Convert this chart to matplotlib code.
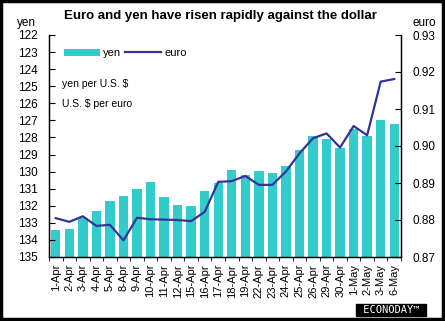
import matplotlib.pyplot as plt
import numpy as np
from matplotlib.patches import Rectangle

plt.rcParams['font.family'] = ['Liberation Sans', 'DejaVu Sans']

dates = ['1-Apr', '2-Apr', '3-Apr', '4-Apr', '5-Apr', '8-Apr', '9-Apr', '10-Apr',
         '11-Apr', '12-Apr', '15-Apr', '16-Apr', '17-Apr', '18-Apr', '19-Apr',
         '22-Apr', '23-Apr', '24-Apr', '25-Apr', '26-Apr', '29-Apr', '30-Apr',
         '1-May', '2-May', '3-May', '6-May']
yen = [133.42, 133.36, 132.70, 132.30, 131.72, 131.43, 131.02, 130.61,
       131.49, 131.95, 132.01, 131.13, 130.67, 129.90, 130.22,
       129.96, 130.08, 129.66, 128.73, 127.91, 128.09, 128.62,
       127.50, 127.91, 126.98, 127.21]
euro = [0.8805, 0.8795, 0.8810, 0.8784, 0.8787, 0.8745, 0.8806, 0.8802,
        0.8801, 0.8800, 0.8797, 0.8822, 0.8903, 0.8905, 0.8919,
        0.8895, 0.8895, 0.8931, 0.8980, 0.9021, 0.9034, 0.8996,
        0.9054, 0.9029, 0.9174, 0.9181]

bar_color = '#33CCCC'
line_color = '#333399'

fig = plt.figure(figsize=(4.45, 3.21), dpi=100)
ax = fig.add_axes([49 / 445, 1 - 257 / 321, 352 / 445, 222 / 321])
x = np.arange(len(dates))

ax.bar(x, np.array(yen) - 135, bottom=135, width=0.69, color=bar_color, label='yen')
ax.set_ylim(135, 122)
ax.set_xlim(-0.5, len(dates) - 0.5)
ax.set_yticks(range(122, 136))
ax.tick_params(axis='y', direction='in', length=4, labelsize=8.5, pad=8)
ax.set_xticks(x)
ax.set_xticklabels(dates, rotation=90, fontsize=8)
ax.set_xticks(np.arange(-0.5, len(dates)), minor=True)
ax.tick_params(axis='x', which='major', length=0, pad=5)
ax.tick_params(axis='x', which='minor', length=3, direction='out')
ax.spines['top'].set_visible(False)
for s in ax.spines.values():
    s.set_linewidth(1)

ax2 = ax.twinx()
ax2.plot(x, euro, color=line_color, lw=1.6, label='euro')
ax2.set_ylim(0.87, 0.93)
ax2.set_yticks([0.87, 0.88, 0.89, 0.90, 0.91, 0.92, 0.93])
ax2.set_yticklabels(['0.87', '0.88', '0.89', '0.90', '0.91', '0.92', '0.93'])
ax2.tick_params(axis='y', direction='in', length=4, labelsize=8.5, pad=8)
ax2.spines['top'].set_visible(False)

fig.text(220 / 445, 1 - 16 / 321, 'Euro and yen have risen rapidly against the dollar',
         ha='center', va='center', fontsize=9.5, fontweight='bold')
fig.text(26 / 445, 1 - 23 / 321, 'yen', ha='center', va='center', fontsize=8.5)
fig.text(424 / 445, 1 - 23 / 321, 'euro', ha='center', va='center', fontsize=8.5)

h1, l1 = ax.get_legend_handles_labels()
h2, l2 = ax2.get_legend_handles_labels()
ax2.legend(h1 + h2, l1 + l2, loc='upper left', bbox_to_anchor=(0.03, 0.96), ncol=2,
           frameon=False, fontsize=8, handlelength=3.2, handletextpad=0.3,
           columnspacing=0.4, borderaxespad=0)

fig.text(62 / 445, 1 - 84 / 321, 'yen per U.S. $', ha='left', va='center', fontsize=7.5)
fig.text(62 / 445, 1 - 104 / 321, 'U.S. $ per euro', ha='left', va='center', fontsize=7.5)

fig.text(391 / 445, 1 - 310 / 321, ' ECONODAY\u2122 ', ha='center', va='center', fontsize=7.5,
         color='white', family='DejaVu Sans Mono',
         bbox=dict(boxstyle='square,pad=0.1', fc='black', ec='black'))

fig.patches.append(Rectangle((0.002, 0.006), 0.993, 0.99, transform=fig.transFigure,
                             fill=False, ec='black', lw=2.5))

fig.savefig('out.png', dpi=100)
